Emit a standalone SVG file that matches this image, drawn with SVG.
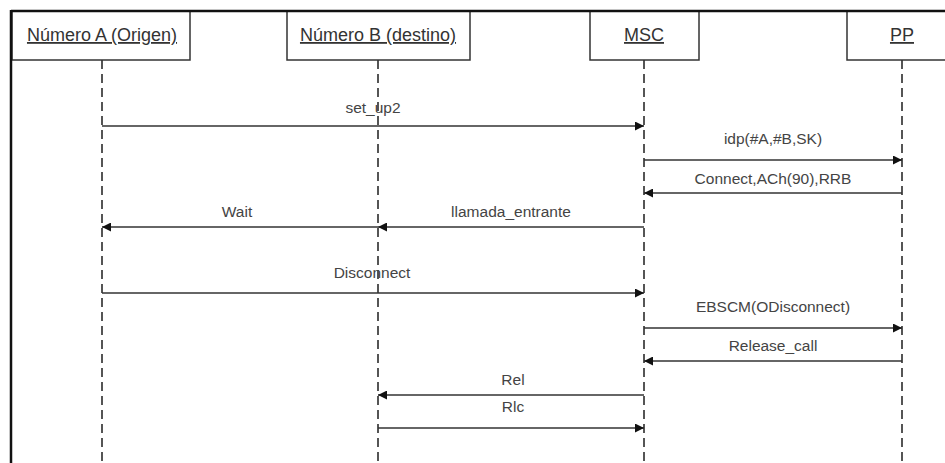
<svg xmlns="http://www.w3.org/2000/svg" width="945" height="463" viewBox="0 0 945 463">
<defs>
<style>
.box{fill:#fff;stroke:#333;stroke-width:1.5}
.hdr{font-family:"Liberation Sans",Arial,sans-serif;font-size:18px;fill:#333;text-anchor:middle;text-decoration:underline}
.life{stroke:#555;stroke-width:2;stroke-dasharray:9,5;fill:none}
.msg{stroke:#333;stroke-width:1.6;fill:none;marker-end:url(#ah)}
.lbl{font-family:"Liberation Sans",Arial,sans-serif;font-size:15.5px;fill:#444;text-anchor:middle}
</style>
<marker id="ah" viewBox="0 0 10 10" refX="10" refY="5" markerWidth="9" markerHeight="9" orient="auto" markerUnits="userSpaceOnUse">
<path d="M0,0 L10,5 L0,10 z" fill="#111"/>
</marker>
</defs>
<rect x="0" y="0" width="945" height="463" fill="#fff"/>
<g id="lifelines">
<line class="life" x1="102" y1="60" x2="102" y2="463"/>
<line class="life" x1="378" y1="60" x2="378" y2="463"/>
<line class="life" x1="644" y1="60" x2="644" y2="463"/>
<line class="life" x1="902" y1="60" x2="902" y2="463"/>
</g>
<g id="nodeA"><rect class="box" x="12" y="11" width="178" height="49"/><text class="hdr" x="102" y="41">Número A (Origen)</text></g>
<g id="nodeB"><rect class="box" x="287" y="11" width="183" height="49"/><text class="hdr" x="378" y="41">Número B (destino)</text></g>
<g id="nodeMSC"><rect class="box" x="590" y="11" width="109" height="49"/><text class="hdr" x="644" y="41">MSC</text></g>
<g id="nodePP"><rect class="box" x="847" y="11" width="110" height="49"/><text class="hdr" x="902" y="41">PP</text></g>
<g id="frame">
<line x1="11" y1="11" x2="945" y2="11" stroke="#111" stroke-width="2.5"/>
<line x1="11" y1="10" x2="11" y2="463" stroke="#111" stroke-width="2.5"/>
</g>
<g id="connectors">
<line class="msg" x1="102" y1="126" x2="644" y2="126"/>
<line class="msg" x1="644" y1="160" x2="902" y2="160"/>
<line class="msg" x1="902" y1="193" x2="644" y2="193"/>
<line class="msg" x1="644" y1="227" x2="378" y2="227"/>
<line class="msg" x1="378" y1="227" x2="102" y2="227"/>
<line class="msg" x1="102" y1="293" x2="644" y2="293"/>
<line class="msg" x1="644" y1="328" x2="902" y2="328"/>
<line class="msg" x1="902" y1="361" x2="644" y2="361"/>
<line class="msg" x1="644" y1="395" x2="378" y2="395"/>
<line class="msg" x1="378" y1="428" x2="644" y2="428"/>
<text class="lbl" x="373" y="113">set_up2</text>
<text class="lbl" x="773" y="144">idp(#A,#B,SK)</text>
<text class="lbl" x="773" y="184">Connect,ACh(90),RRB</text>
<text class="lbl" x="511" y="217">llamada_entrante</text>
<text class="lbl" x="237" y="217">Wait</text>
<text class="lbl" x="372" y="278">Disconnect</text>
<text class="lbl" x="773" y="312">EBSCM(ODisconnect)</text>
<text class="lbl" x="773" y="351">Release_call</text>
<text class="lbl" x="513" y="385">Rel</text>
<text class="lbl" x="513" y="412">Rlc</text>
</g>
</svg>
